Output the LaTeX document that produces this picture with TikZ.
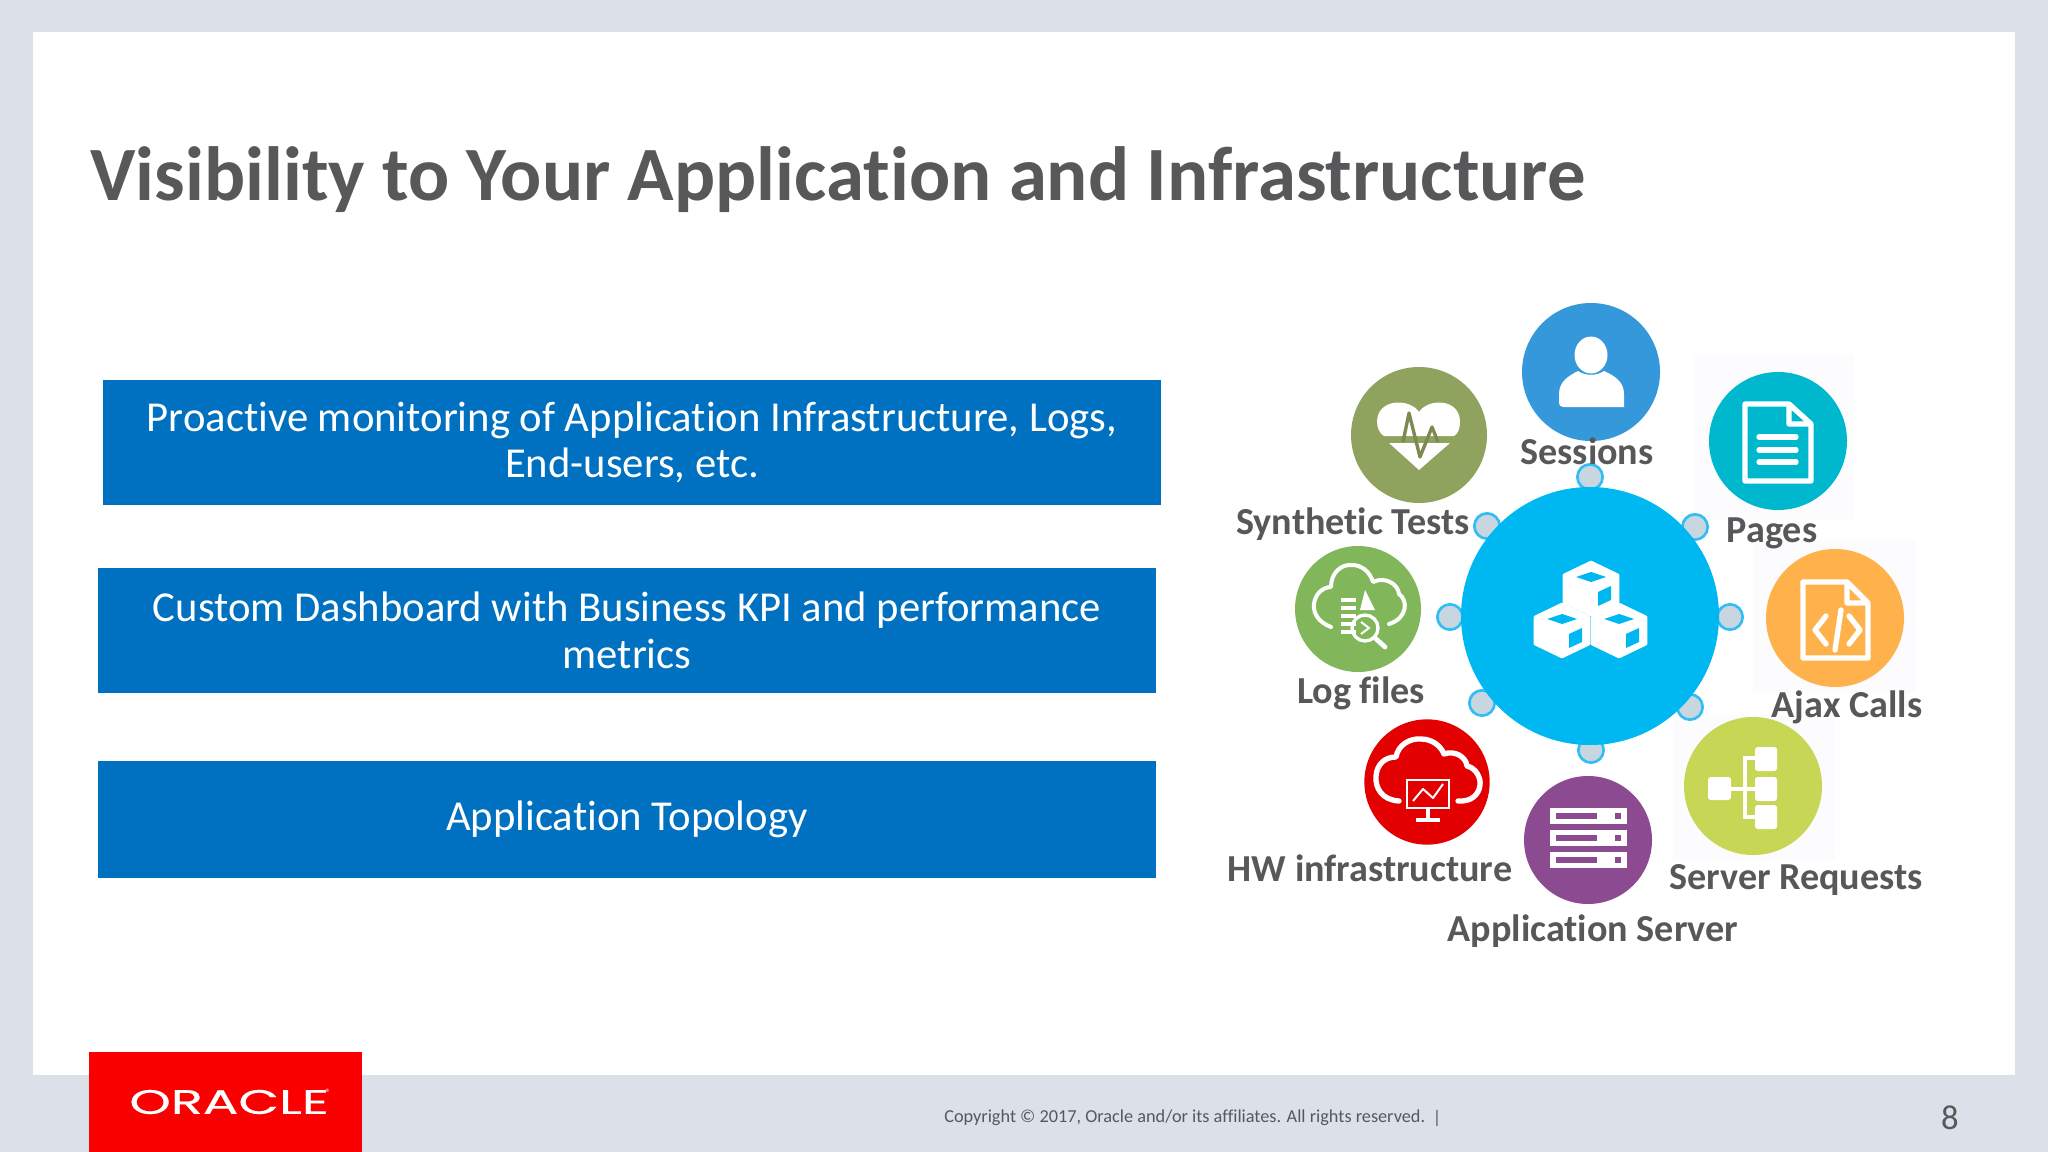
\documentclass[tikz,border=0pt]{standalone}
\usepackage{fontspec}
\setmainfont[Ligatures=NoCommon]{Carlito}
\newfontfamily\logofont[FakeBold=0.5]{Poppins}
\usepackage{tikz}
\usetikzlibrary{shapes}
\definecolor{slidegrey}{RGB}{220,225,233}
\definecolor{boxblue}{RGB}{0,112,192}
\definecolor{hubcyan}{RGB}{0,184,241}
\definecolor{dotgrey}{RGB}{200,214,224}
\definecolor{dotline}{RGB}{50,190,245}
\definecolor{textgrey}{RGB}{88,88,90}
\definecolor{sessionblue}{RGB}{52,152,219}
\definecolor{testolive}{RGB}{143,162,94}
\definecolor{pageteal}{RGB}{0,184,205}
\definecolor{loggreen}{RGB}{130,182,90}
\definecolor{ajaxorange}{RGB}{255,178,75}
\definecolor{hwred}{RGB}{226,0,0}
\definecolor{apppurple}{RGB}{140,75,145}
\definecolor{serverlime}{RGB}{200,214,86}
\definecolor{logored}{RGB}{250,0,0}
\definecolor{faintbox}{RGB}{252,251,253}
\tikzset{
  bluebox/.style={fill=boxblue,text=white,align=center,inner sep=0pt,minimum width=793.5pt,font=\fontsize{32}{35}\selectfont},
  ball/.style={circle,inner sep=0pt},
  hubdot/.style={circle,inner sep=0pt,minimum size=19pt,fill=dotgrey,draw=dotline,line width=2pt},
  iconlabel/.style={text=textgrey,inner sep=0pt,font=\fontsize{28.6}{32}\selectfont\bfseries},
  iconline/.style={draw=white,line width=4pt,line join=round,line cap=round}
}
\begin{document}
\begin{tikzpicture}[x=0.75pt,y=0.75pt,yscale=-1,xscale=1]
\useasboundingbox (0,0) rectangle (2048,1152);

%Slide background
\fill [slidegrey] (0,0) rectangle (2048,1152);
\fill [white] (33,32) rectangle (2015,1075);
\fill [faintbox] (1694,355) rectangle (1854,520);
\fill [faintbox] (1753,540) rectangle (1916,693);
\fill [faintbox] (1673,715) rectangle (1835,860);

% Text Node
\node (title) [anchor=west,inner sep=0pt,text=textgrey,font=\fontsize{57.6}{62}\selectfont\bfseries] at (90,180) {Visibility to Your Application and Infrastructure};

%Blue boxes
\node (boxmonitor) [bluebox,minimum height=93.75pt] at (632,442.5) {Proactive monitoring of Application Infrastructure, Logs,\\End-users, etc.};
\node (boxdashboard) [bluebox,minimum height=93.75pt] at (627,630.5) {Custom Dashboard with Business KPI and performance\\metrics};
\node (boxtopology) [bluebox,minimum height=87.75pt] at (627,819.5) {\raisebox{-2pt}{Application Topology}};

%Small dots round the hub
\node (dottop) [hubdot] at (1590,477) {};
\node (dotupright) [hubdot] at (1695,527) {};
\node (dotright) [hubdot] at (1730,617) {};
\node (dotlowright) [hubdot] at (1690,707) {};
\node (dotbottom) [hubdot] at (1591,750) {};
\node (dotlowleft) [hubdot] at (1482,703) {};
\node (dotleft) [hubdot] at (1450,617) {};
\node (dotupleft) [hubdot] at (1487,526) {};

%Hub
\node (hub) [ball,fill=hubcyan,minimum size=193.5pt] at (1590,616) {};
\foreach \cx/\cy in {1591/562,1562/604,1619/604} {
  \fill [white,draw=white,line width=2pt,line join=round] (\cx,\cy) -- ({\cx+27},{\cy+13}) -- ({\cx+27},{\cy+40}) -- (\cx,{\cy+53}) -- ({\cx-27},{\cy+40}) -- ({\cx-27},{\cy+13}) -- cycle;
  \fill [hubcyan] (\cx,{\cy+10}) -- ({\cx+15},{\cy+15}) -- (\cx,{\cy+20}) -- ({\cx-15},{\cy+15}) -- cycle;
  \fill [hubcyan] ({\cx+7},{\cy+30}) -- ({\cx+20},{\cy+24}) -- ({\cx+20},{\cy+38}) -- ({\cx+7},{\cy+44}) -- cycle;
}

%Icon balls
\node (sessions) [ball,fill=sessionblue,minimum size=103.5pt] at (1591,372) {};
\node (synthetic) [ball,fill=testolive,minimum size=102pt] at (1419,435) {};
\node (pages) [ball,fill=pageteal,minimum size=103.5pt] at (1778,441) {};
\node (logfiles) [ball,fill=loggreen,minimum size=94.5pt] at (1358,609) {};
\node (ajax) [ball,fill=ajaxorange,minimum size=103.5pt] at (1835,618) {};
\node (hwinfra) [ball,fill=hwred,minimum size=94pt] at (1427,782) {};
\node (appserver) [ball,fill=apppurple,minimum size=96pt] at (1588,840) {};
\node (requests) [ball,fill=serverlime,minimum size=103.5pt] at (1753,786) {};

%Person
\fill [white] (1591,355) ellipse (16.5 and 18.5);
\fill [white] (1559,407) -- (1559,394) .. controls (1559,382) and (1568,376) .. (1578,371) .. controls (1585,376) and (1597,376) .. (1604,371) .. controls (1615,376) and (1624,382) .. (1624,394) -- (1624,407) [rounded corners=3pt] -- cycle;

%Heart
\fill [white] (1419,412) .. controls (1410,398) and (1377,398) .. (1377,422) .. controls (1377,428) and (1380,434) .. (1384,436) -- (1454,436) .. controls (1458,434) and (1460,428) .. (1460,422) .. controls (1460,398) and (1428,398) .. (1419,412) -- cycle;
\fill [white] (1389,443) -- (1450,443) -- (1419,470) -- cycle;
\draw [testolive!85!black,line width=2.5pt,line join=round] (1403,442) -- (1409,413) -- (1420,457) -- (1432,427) -- (1438,442);

%Page
\draw [iconline] (1789,404) -- (1745,404) -- (1745,481) -- (1811,481) -- (1811,424) -- (1789,404) -- (1789,424) -- (1811,424);
\draw [iconline] (1759,437) -- (1796,437);
\draw [iconline] (1759,450) -- (1796,450);
\draw [iconline] (1759,462) -- (1796,462);

%Code page
\draw [iconline] (1847,582) -- (1803,582) -- (1803,658) -- (1868,658) -- (1868,603) -- (1847,582) -- (1847,603) -- (1868,603);
\draw [iconline] (1826,616) -- (1815,630) -- (1826,644);
\draw [iconline] (1841,610) -- (1835,650);
\draw [iconline] (1849,616) -- (1860,630) -- (1849,644);

%Cloud with log sheet and lens
\draw [iconline,line width=3pt] (1331,627) .. controls (1318,622) and (1313,613) .. (1314,604) .. controls (1315,594) and (1323,587) .. (1331,587) .. controls (1331,572) and (1342,564) .. (1352,565) .. controls (1362,565) and (1370,572) .. (1373,582) .. controls (1385,576) and (1398,584) .. (1399,594) .. controls (1408,600) and (1408,618) .. (1389,624);
\foreach \ly in {600,608,616,624,632} {
  \draw [white,line width=3pt] (1341,\ly) -- (1356,\ly);
}
\fill [white] (1365,590) -- (1375,610) -- (1360,610) -- cycle;
\draw [white,line width=2.5pt] (1365,628) circle (13);
\draw [white,line width=3.5pt,line cap=round] (1375,638) -- (1385,647);
\draw [white,line width=1.5pt] (1361,622) -- (1369,628) -- (1361,634);

%Cloud with monitor
\draw [iconline] (1399,801) .. controls (1382,800) and (1375,788) .. (1376,776) .. controls (1377,764) and (1385,757) .. (1396,757) .. controls (1398,745) and (1410,738) .. (1421,739) .. controls (1432,739) and (1441,746) .. (1444,754) .. controls (1455,750) and (1466,757) .. (1467,766) .. controls (1476,768) and (1481,778) .. (1480,785) .. controls (1479,794) and (1472,802) .. (1458,801);
\draw [white,line width=2pt] (1407,780) rectangle (1449,808);
\draw [white,line width=1.5pt,line join=round] (1413,801) -- (1423,789) -- (1433,798) -- (1443,784);
\draw [white,line width=3pt] (1428,809) -- (1428,820);
\draw [white,line width=3pt] (1416,820) -- (1440,820);

%Server rack
\foreach \ry in {808,830,852} {
  \fill [white] (1550,\ry) rectangle (1627,{\ry+16});
  \fill [apppurple] (1556,{\ry+5}) rectangle (1597,{\ry+11});
  \fill [apppurple] (1615,{\ry+5}) rectangle (1621,{\ry+11});
}

%Request tree
\foreach \ty in {747,777,805} {
  \fill [white,rounded corners=2pt] (1755,\ty) rectangle (1777,{\ty+24});
}
\fill [white,rounded corners=2pt] (1708,777) rectangle (1731,800);
\draw [white,line width=3.5pt] (1731,789) -- (1755,789);
\draw [white,line width=3.5pt] (1755,758) -- (1745,758) -- (1745,817) -- (1755,817);

% Text Node
\node (sessionstext) [iconlabel] at (1587,451) {Sessions};
\node (synthetictext) [iconlabel] at (1353,524) {Synthetic Tests};
\node (pagestext) [iconlabel] at (1772,533) {Pages};
\node (logtext) [iconlabel] at (1361,693) {Log files};
\node (ajaxtext) [iconlabel] at (1847,707) {Ajax Calls};
\node (hwtext) [iconlabel] at (1370,868) {HW infrastructure};
\node (requeststext) [iconlabel] at (1796,880) {Server Requests};
\node (apptext) [iconlabel] at (1593,931) {Application Server};

%Footer
\fill [logored] (89,1052) rectangle (362,1152);
\node (oracle) [anchor=west,inner sep=0pt,text=white,xscale=1.55,font=\fontsize{25.5}{30}\selectfont\logofont] at (129,1102) {ORACLE};
\node (oraclemark) [inner sep=0pt,text=white,font=\fontsize{8}{9}\selectfont] at (328,1093) {®};
\node (copyright) [anchor=west,inner sep=0pt,text=textgrey,font=\fontsize{13.7}{16}\selectfont] at (944,1118) {Copyright © 2017, Oracle and/or its affiliates. All rights reserved.};
\node (copybar) [inner sep=0pt,text=textgrey,font=\fontsize{13.7}{16}\selectfont] at (1437,1118) {|};
\node (pagenum) [inner sep=0pt,text=textgrey,font=\fontsize{26}{30}\selectfont] at (1950,1118) {8};

\end{tikzpicture}
\end{document}
